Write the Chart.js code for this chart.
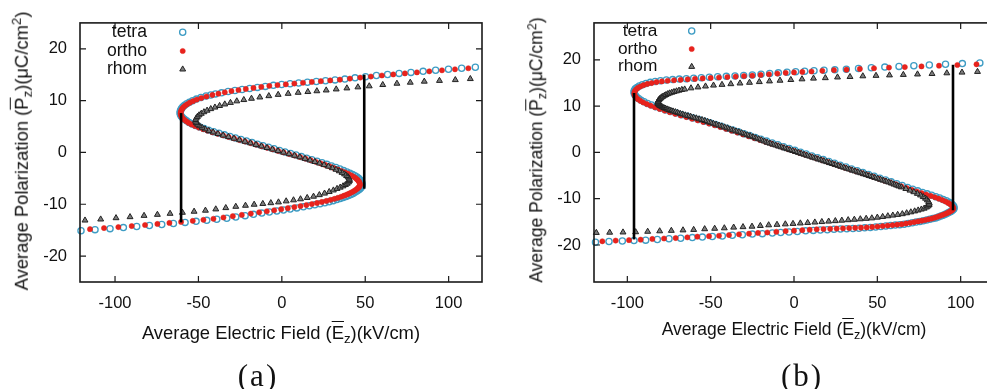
<!DOCTYPE html>
<html><head><meta charset="utf-8">
<script src="https://cdn.jsdelivr.net/npm/chart.js@4.4.1/dist/chart.umd.min.js"></script>
<style>
html,body{margin:0;padding:0;width:987px;height:389px;overflow:hidden;background:#fff;}
.box{position:absolute;top:0;height:389px;}
.txt{position:absolute;font-family:'Liberation Sans',Arial,sans-serif;color:#111;white-space:nowrap;line-height:1;}
.sub{position:relative;top:0.33em;font-size:72%;}
.sup{position:relative;top:-0.5em;font-size:72%;}
.ov{text-decoration:overline;text-decoration-thickness:1px;}
.cap{position:absolute;font-family:'Liberation Serif','Times New Roman',serif;color:#111;line-height:1;white-space:nowrap;transform:translate(-50%,-50%);letter-spacing:2px;}
</style></head><body>
<div class="box" style="left:0;width:494px"><canvas id="cA" width="494" height="389"></canvas></div>
<div class="box" style="left:514px;width:492px"><canvas id="cB" width="492" height="389"></canvas></div>

<div class="txt" style="left:22px;top:151px;font-size:18.4px;transform:translate(-50%,-50%) rotate(-90deg);">Average Polarization (<span class="ov">P</span><span class="sub">z</span>)(μC/cm<span class="sup">2</span>)</div>
<div class="txt" style="left:281px;top:323.5px;font-size:18.4px;transform:translateX(-50%);">Average Electric Field (<span class="ov">E</span><span class="sub">z</span>)(kV/cm)</div>
<div class="cap" style="left:258px;top:375px;font-size:31px;">(a)</div>

<div class="txt" style="left:537px;top:150px;font-size:17.5px;transform:translate(-50%,-50%) rotate(-90deg);">Average Polarization (<span class="ov">P</span><span class="sub">z</span>)(μC/cm<span class="sup">2</span>)</div>
<div class="txt" style="left:794px;top:321.2px;font-size:17.5px;transform:translateX(-50%);">Average Electric Field (<span class="ov">E</span><span class="sub">z</span>)(kV/cm)</div>
<div class="cap" style="left:802px;top:375px;font-size:31px;">(b)</div>

<script>
// ---------- data (E in kV/cm, P in uC/cm^2) ----------
const seriesNames = ['tetra', 'ortho', 'rhom'];
const xTicks = [-100, -50, 0, 50, 100];
const yTicks = [-20, -10, 0, 10, 20];

// panel (a)
const aTetra = [
[-120.4,-15.1],[-112,-14.9],[-103,-14.7],[-95,-14.5],[-87,-14.3],[-79.4,-14.1],[-72,-13.9],[-65,-13.7],[-58,-13.5],[-51.4,-13.3],
[-45,-13.1],[-39,-12.9],[-33,-12.7],[-27.6,-12.45],[-22,-12.2],[-17,-11.95],[-12,-11.7],[-7.5,-11.5],[-3,-11.3],[1,-11.1],
[5,-10.9],[9,-10.7],[12.9,-10.5],[16.5,-10.3],[19.8,-10.1],[22.9,-9.9],[25.8,-9.7],[28.4,-9.5],[30.8,-9.3],[33,-9.1],
[35,-8.9],[36.8,-8.7],[38.5,-8.5],[40,-8.3],[41.4,-8.1],[42.7,-7.9],[43.8,-7.7],[44.8,-7.5],[45.7,-7.3],[46.5,-7.1],
[47.1,-6.9],[47.6,-6.7],[47.9,-6.5],[48,-6.3],
[48,-6.0],[47.8,-5.75],[47.4,-5.5],[46.8,-5.25],[46,-5.0],[45,-4.75],[43.8,-4.5],[42.4,-4.25],[40.8,-4.0],[39,-3.75],
[37,-3.5],[34.8,-3.2],[32.4,-2.9],[29.8,-2.6],[27,-2.3],[24.1,-2.0],[21.1,-1.7],[18,-1.4],[14.9,-1.1],[11.7,-0.8],
[8.5,-0.5],[5.2,-0.2],[1.9,0.1],[-1.4,0.4],[-4.7,0.7],[-8,1.0],[-11.3,1.3],[-14.6,1.6],[-17.9,1.9],[-21.2,2.2],
[-24.5,2.5],[-27.8,2.8],[-31.1,3.1],[-34.4,3.4],[-37.7,3.7],[-40.9,4.0],[-43.9,4.3],[-46.7,4.6],[-49.3,4.9],[-51.7,5.2],
[-53.8,5.5],[-55.6,5.8],[-57.1,6.1],[-58.4,6.4],[-59.5,6.7],[-60.3,7.0],[-60.8,7.3],[-61,7.6],[-60.9,7.9],[-60.6,8.2],
[-60.1,8.5],[-59.3,8.8],[-58.3,9.1],[-57,9.4],[-55.4,9.7],[-53.5,10.0],[-51.2,10.3],[-48.5,10.6],[-45.4,10.9],[-42.6,11.1],
[-39.8,11.3],[-36.1,11.5],[-32.2,11.75],[-28.1,11.95],[-23.8,12.15],[-19.3,12.35],[-14.65,12.55],[-9.9,12.75],[-5.05,12.95],[-0.1,13.1],
[4.95,13.25],[10.1,13.4],[15.35,13.55],[20.7,13.7],[26.2,13.85],[31.9,14.0],[37.8,14.15],[43.9,14.4],[50.2,14.6],[56.7,14.85],
[63.4,15.05],[70.3,15.25],[77.4,15.45],[84.7,15.65],[92.2,15.85],[99.9,16.05],[107.8,16.25],[116,16.45]
];
const aOrtho = [
[-115,-14.8],[-106.6,-14.6],[-98,-14.4],[-90,-14.2],[-82,-14.0],[-74.6,-13.8],[-67.4,-13.6],[-60.4,-13.4],[-53.4,-13.2],[-47,-13.0],
[-41,-12.8],[-35,-12.55],[-29.4,-12.3],[-24,-12.05],[-18.6,-11.8],[-13.6,-11.55],[-9,-11.35],[-4.6,-11.15],[-0.4,-10.95],[3.6,-10.75],
[7.5,-10.55],[11.2,-10.35],[14.7,-10.15],[18,-9.95],[21.1,-9.75],[24,-9.55],[26.7,-9.35],[29.2,-9.15],[31.5,-8.95],[33.6,-8.75],
[35.5,-8.55],[37.2,-8.35],[38.8,-8.15],[40.2,-7.95],[41.5,-7.75],[42.7,-7.55],[43.7,-7.35],[44.6,-7.15],[45.4,-6.95],[46,-6.75],
[46.5,-6.55],[46.8,-6.35],
[46.8,-6.1],[46.6,-5.85],[46.2,-5.6],[45.6,-5.35],[44.8,-5.1],[43.8,-4.85],[42.6,-4.6],[41.2,-4.35],[39.6,-4.1],[37.8,-3.85],
[35.8,-3.6],[33.6,-3.3],[31.2,-3.0],[28.6,-2.7],[26,-2.4],[23.2,-2.1],[20.3,-1.8],[17.3,-1.5],[14.2,-1.2],[11,-0.9],
[7.7,-0.6],[4.4,-0.3],[1.1,0],[-2.2,0.3],[-5.5,0.6],[-8.8,0.9],[-12.1,1.2],[-15.4,1.5],[-18.7,1.8],[-22,2.1],
[-25.3,2.4],[-28.6,2.7],[-31.9,3.0],[-35.2,3.3],[-38.5,3.6],[-41.6,3.9],[-44.5,4.2],[-47.2,4.5],[-49.8,4.8],[-52.1,5.1],
[-54.1,5.4],[-55.8,5.7],[-57.2,6.0],[-58.4,6.3],[-59.4,6.6],[-60.1,6.9],[-60.5,7.2],[-60.7,7.5],[-60.6,7.8],[-60.3,8.1],
[-59.8,8.4],[-59.1,8.7],[-58.1,9.0],[-56.8,9.3],[-55.2,9.6],[-53.3,9.9],[-51,10.2],[-48.3,10.5],[-45.2,10.8],[-41.6,11.1],
[-38,11.35],[-34.2,11.6],[-30.2,11.85],[-26,12.05],[-21.6,12.25],[-17,12.45],[-12.3,12.65],[-7.5,12.85],[-2.6,13.0],[2.4,13.15],
[7.5,13.3],[12.7,13.45],[18,13.6],[23.4,13.75],[29,13.9],[34.8,14.05],[40.8,14.25],[47,14.45],[53.4,14.65],[60,14.85],
[66.8,15.05],[73.8,15.25],[81,15.45],[88.4,15.65],[96,15.85],[103.8,16.05],[111.8,16.25]
];
const aRhom = [
[-118,-13.1],[-108.6,-12.9],[-99.4,-12.65],[-91,-12.45],[-82.6,-12.2],[-74.6,-12.0],[-67,-11.8],[-59.6,-11.6],[-52.6,-11.4],[-45.8,-11.2],
[-39.6,-10.95],[-33.6,-10.7],[-27.6,-10.45],[-21.8,-10.25],[-16.6,-10.05],[-11.4,-9.9],[-6.6,-9.75],[-2,-9.6],[2.6,-9.4],[7,-9.2],
[11.2,-9.0],[15.2,-8.75],[19,-8.5],[22.5,-8.2],[25.6,-7.9],[28.4,-7.6],[30.9,-7.3],[33.1,-7.0],[35,-6.75],[36.7,-6.5],
[38.1,-6.25],[39.2,-6.0],[40,-5.75],[40.5,-5.5],[40.6,-5.25],
[40.3,-5.0],[39.7,-4.75],[38.8,-4.5],[37.6,-4.2],[36.1,-3.9],[34.4,-3.6],[32.5,-3.3],[30.3,-3.0],[27.9,-2.7],[25.3,-2.4],
[22.6,-2.1],[19.8,-1.8],[16.9,-1.5],[13.9,-1.2],[10.8,-0.9],[7.6,-0.6],[4.3,-0.3],[1,0],[-2.3,0.3],[-5.6,0.6],
[-8.9,0.9],[-12.2,1.2],[-15.5,1.5],[-18.8,1.8],[-22.1,2.1],[-25.4,2.4],[-28.7,2.7],[-32,3.0],[-35.2,3.3],[-38.3,3.6],
[-41.2,3.9],[-43.8,4.2],[-46,4.5],[-47.8,4.8],[-49.3,5.1],[-50.5,5.4],[-51.3,5.7],[-51.7,6.0],[-51.7,6.3],[-51.3,6.6],
[-50.6,6.9],[-49.6,7.2],[-48.3,7.5],[-46.7,7.8],[-44.8,8.1],[-42.6,8.4],[-40.1,8.7],[-37.3,9.0],[-34.2,9.3],[-30.8,9.6],
[-27,9.9],[-22.8,10.15],[-18.2,10.4],[-13.2,10.65],[-7.8,10.9],[-2.2,11.15],[3.8,11.35],[9.8,11.55],[15.6,11.7],[21,11.85],
[26.6,12.0],[32.6,12.2],[39,12.4],[45.6,12.6],[52.4,12.8],[60.5,13.05],[69,13.3],[77,13.5],[85.4,13.7],[94.5,13.85],
[104,14.0],[113,14.2]
];
const aJumpLeft = [[-60.4,-13.5],[-60.4,7.6]];
const aJumpRight = [[49.4,-7.0],[49.4,15.0]];

// panel (b)
const bTetra = [
[-119.1,-19.4],[-111,-19.25],[-103,-19.15],[-96,-19.05],[-89,-18.95],[-82,-18.8],[-75,-18.65],[-68,-18.55],[-61,-18.4],[-55,-18.3],
[-49,-18.15],[-43,-18.05],[-37,-17.9],[-31,-17.8],[-25,-17.65],[-19,-17.55],[-13,-17.4],[-8,-17.3],[-3,-17.2],[2,-17.1],
[7,-16.95],[11.6,-16.85],[15.8,-16.75],[20,-16.7],[24,-16.6],[27.9,-16.55],[31.7,-16.5],[35.4,-16.45],[39,-16.4],[42.4,-16.3],
[45.8,-16.2],[49,-16.1],[52.1,-16.0],[55.1,-15.9],[58,-15.8],[60.8,-15.7],[63.5,-15.6],[66.1,-15.5],[68.6,-15.35],[71,-15.2],
[73.3,-15.05],[75.5,-14.9],[77.6,-14.75],[79.6,-14.6],[81.5,-14.45],[83.3,-14.3],[85,-14.15],[86.6,-13.95],[88.1,-13.75],[89.5,-13.55],
[90.8,-13.35],[92,-13.15],[93.1,-12.95],[94.1,-12.75],[94.9,-12.55],[95.5,-12.35],[95.9,-12.15],[96,-11.95],
[95.8,-11.65],[95.2,-11.35],[94.3,-11.05],[93,-10.75],[91.4,-10.45],[89.5,-10.15],[87.4,-9.85],[85.1,-9.55],[82.6,-9.25],[79.9,-8.95],
[77.1,-8.65],[74.2,-8.3],[71.2,-7.95],[68.1,-7.55],[64.9,-7.15],[61.6,-6.75],[58.3,-6.35],[54.9,-5.95],[51.5,-5.55],[48.1,-5.15],
[44.7,-4.75],[41.3,-4.35],[37.9,-3.95],[34.5,-3.55],[31.1,-3.15],[27.7,-2.75],[24.3,-2.35],[20.9,-1.95],[17.5,-1.55],[14.1,-1.15],
[10.7,-0.75],[7.3,-0.35],[3.9,0.05],[0.5,0.45],[-2.9,0.85],[-6.3,1.25],[-9.7,1.65],[-13.1,2.05],[-16.5,2.45],[-19.9,2.85],
[-23.3,3.25],[-26.7,3.65],[-30.1,4.05],[-33.5,4.45],[-36.9,4.85],[-40.3,5.25],[-43.7,5.65],[-47.1,6.05],[-50.5,6.4],[-53.9,6.75],
[-57.3,7.1],[-60.7,7.45],[-64.1,7.8],[-67.5,8.15],[-70.8,8.5],[-74,8.85],[-77.1,9.2],[-80.1,9.55],[-82.9,9.9],[-85.5,10.25],
[-87.9,10.6],[-90,10.95],[-91.8,11.3],[-93.3,11.65],[-94.5,12.0],[-95.3,12.35],[-95.8,12.7],[-96,13.05],[-95.8,13.4],[-95.2,13.75],
[-94.2,14.05],[-92.8,14.35],[-91,14.65],[-88.8,14.9],[-86.2,15.15],[-83.3,15.35],[-80.1,15.5],[-76.6,15.65],[-72.8,15.75],[-68.8,15.85],
[-64.6,15.95],[-60.2,16.05],[-55.6,16.15],[-50.8,16.25],[-45.8,16.35],[-40.6,16.45],[-35.4,16.55],[-30.2,16.65],[-25,16.75],[-19.8,16.9],
[-14.6,17.05],[-9.4,17.2],[-4.2,17.35],[1,17.45],[6.4,17.55],[12,17.65],[18,17.75],[24.5,17.85],[31.4,18.0],[38.7,18.15],
[46.4,18.3],[54.5,18.45],[63,18.6],[71.9,18.75],[81.2,18.9],[90.9,19.05],[101,19.2],[111.5,19.35]
];
const bOrtho = [
[-115,-19.2],[-107,-19.05],[-99,-18.95],[-92,-18.85],[-85,-18.7],[-78,-18.6],[-71,-18.5],[-64,-18.35],[-58,-18.2],[-51,-18.1],
[-45,-18.0],[-39,-17.85],[-33,-17.7],[-27,-17.55],[-21.6,-17.4],[-16,-17.3],[-10.6,-17.15],[-5,-17.0],[0,-16.9],[5,-16.8],
[9.4,-16.7],[13.6,-16.6],[17.7,-16.55],[21.7,-16.5],[25.6,-16.45],[29.4,-16.4],[33.1,-16.35],[36.7,-16.3],[40.2,-16.25],[43.6,-16.2],
[46.9,-16.1],[50.1,-16.0],[53.2,-15.9],[56.2,-15.8],[59.1,-15.7],[61.9,-15.6],[64.6,-15.5],[67.2,-15.35],[69.7,-15.2],[72.1,-15.05],
[74.4,-14.9],[76.6,-14.75],[78.7,-14.6],[80.7,-14.45],[82.6,-14.3],[84.4,-14.1],[86.1,-13.9],[87.7,-13.7],[89.2,-13.5],[90.6,-13.3],
[91.9,-13.1],[93,-12.9],[94,-12.7],[94.8,-12.5],[95.3,-12.3],[95.6,-12.1],
[95.4,-11.8],[94.8,-11.5],[93.8,-11.2],[92.5,-10.9],[90.9,-10.6],[89,-10.3],[86.9,-10.0],[84.6,-9.7],[82.1,-9.4],[79.4,-9.1],
[76.6,-8.8],[73.7,-8.45],[70.7,-8.1],[67.6,-7.7],[64.4,-7.3],[61.1,-6.9],[57.8,-6.5],[54.4,-6.1],[51,-5.7],[47.6,-5.3],
[44.2,-4.9],[40.8,-4.5],[37.4,-4.1],[34,-3.7],[30.6,-3.3],[27.2,-2.9],[23.8,-2.5],[20.4,-2.1],[17,-1.7],[13.6,-1.3],
[10.2,-0.9],[6.8,-0.5],[3.4,-0.1],[0,0.3],[-3.4,0.7],[-6.8,1.1],[-10.2,1.5],[-13.6,1.9],[-17,2.3],[-20.4,2.7],
[-23.8,3.1],[-27.2,3.5],[-30.6,3.9],[-34,4.3],[-37.4,4.7],[-40.8,5.1],[-44.2,5.5],[-47.6,5.9],[-51,6.25],[-54.4,6.6],
[-57.8,6.95],[-61.2,7.3],[-64.6,7.65],[-68,8.0],[-71.3,8.35],[-74.5,8.7],[-77.6,9.05],[-80.6,9.4],[-83.4,9.75],[-86,10.1],
[-88.3,10.45],[-90.4,10.8],[-92.2,11.15],[-93.6,11.5],[-94.7,11.85],[-95.4,12.2],[-95.8,12.55],[-95.8,12.9],[-95.5,13.25],[-94.8,13.6],
[-93.7,13.95],[-92.2,14.25],[-90.3,14.55],[-88,14.8],[-85.4,15.0],[-82.5,15.2],[-79.3,15.35],[-75.8,15.5],[-72,15.6],[-68,15.7],
[-63.8,15.8],[-59.4,15.9],[-54.8,16.0],[-50,16.1],[-45,16.2],[-40,16.3],[-35,16.4],[-30,16.5],[-25,16.6],[-20,16.75],
[-15,16.9],[-10,17.05],[-5,17.2],[0,17.3],[5,17.4],[10.5,17.5],[17,17.65],[24,17.8],[31.5,17.9],[39.5,18.05],
[48,18.2],[57,18.35],[66.5,18.45],[76.5,18.6],[87,18.75],[98,18.9],[109.5,19.05]
];
const bRhom = [
[-118.6,-17.35],[-110.6,-17.3],[-102.6,-17.25],[-95,-17.2],[-87.8,-17.1],[-80.6,-17.0],[-73.6,-16.9],[-66.6,-16.8],[-60.2,-16.7],[-53.6,-16.55],
[-47.6,-16.45],[-41.8,-16.35],[-36.2,-16.2],[-30.6,-16.1],[-25.2,-16.0],[-20.2,-15.85],[-15.2,-15.7],[-10.2,-15.6],[-5.2,-15.5],[-0.6,-15.4],
[3.8,-15.3],[8.2,-15.2],[12.5,-15.1],[16.7,-15.0],[20.8,-14.9],[24.8,-14.8],[28.7,-14.7],[32.5,-14.6],[36.2,-14.5],[39.8,-14.4],
[43.3,-14.3],[46.7,-14.2],[50,-14.05],[53.2,-13.9],[56.3,-13.75],[59.3,-13.6],[62.2,-13.45],[65,-13.3],[67.6,-13.1],[70.1,-12.9],
[72.4,-12.7],[74.5,-12.5],[76.4,-12.3],[78.1,-12.1],[79.5,-11.85],[80.5,-11.6],[81.1,-11.3],[81.2,-11.0],
[80.8,-10.65],[80,-10.3],[78.9,-9.95],[77.5,-9.6],[75.9,-9.25],[74,-8.9],[71.9,-8.55],[69.6,-8.2],[67.1,-7.85],[64.4,-7.5],
[62.9,-7.3],[61.5,-7.1],[60,-6.9],[58.4,-6.65],[56.8,-6.45],[55.2,-6.25],[53.5,-6.05],[51.9,-5.85],[50.2,-5.65],[48.5,-5.45],
[46.8,-5.25],[45.1,-5.05],[43.4,-4.85],[41.7,-4.65],[40,-4.45],[38.3,-4.25],[36.6,-4.05],[34.9,-3.85],[33.2,-3.65],[31.5,-3.45],
[29.8,-3.25],[28.1,-3.05],[26.4,-2.85],[24.7,-2.65],[23,-2.45],[21.3,-2.25],[19.6,-2.05],[17.9,-1.85],[16.2,-1.65],[14.5,-1.45],
[12.8,-1.25],[11.1,-1.05],[9.4,-0.85],[7.7,-0.65],[6,-0.45],[4.3,-0.25],[2.6,-0.05],[0.9,0.15],[-0.8,0.35],[-2.5,0.55],
[-4.2,0.75],[-5.9,0.95],[-7.6,1.15],[-9.3,1.35],[-11,1.55],[-12.7,1.75],[-14.4,1.95],[-16.1,2.15],[-17.8,2.4],[-19.5,2.65],
[-21.2,2.9],[-22.9,3.1],[-24.6,3.35],[-26.3,3.55],[-28,3.75],[-29.7,3.95],[-31.4,4.2],[-33.1,4.4],[-34.8,4.6],[-36.5,4.8],
[-38.2,5.0],[-39.9,5.25],[-41.6,5.45],[-43.3,5.65],[-45,5.85],[-46.7,6.05],[-48.4,6.25],[-50.1,6.45],[-51.8,6.65],[-53.5,6.85],
[-55.2,7.05],[-56.9,7.2],[-58.6,7.4],[-60.3,7.55],[-62,7.75],[-63.6,7.9],[-65.2,8.05],[-66.8,8.25],[-68.3,8.4],[-69.8,8.6],
[-71.2,8.75],[-72.6,8.9],[-73.9,9.05],[-75.1,9.2],[-76.2,9.35],[-77.2,9.5],[-78.1,9.65],[-79,9.8],[-79.7,9.95],[-80.4,10.1],
[-80.9,10.25],[-81.3,10.4],[-81.6,10.55],[-81.7,10.7],[-81.7,10.9],[-81.6,11.05],[-81.3,11.25],[-81,11.4],[-80.5,11.6],[-80,11.75],
[-79.3,11.95],[-78.6,12.1],[-77.7,12.3],[-76.8,12.45],[-75.7,12.65],[-74.6,12.8],[-73.3,12.95],[-72,13.1],[-70.5,13.25],[-69,13.4],
[-67.3,13.55],[-65.6,13.65],[-61.8,13.9],[-57.6,14.1],[-53.1,14.3],[-48.3,14.5],
[-43.2,14.65],[-37.9,14.8],[-32.4,14.95],[-26.7,15.1],[-20.8,15.25],[-14.7,15.4],[-8.4,15.55],[-1.9,15.7],[4.8,15.85],[11.7,16.0],
[18.8,16.1],[26.1,16.25],[33.6,16.35],[41.3,16.5],[49.2,16.6],[57.3,16.7],[65.6,16.8],[74.1,16.9],[82.8,17.0],[91.7,17.15],
[100.8,17.3],[110.1,17.45],[119.6,17.6]
];
const bJumpLeft = [[-96,-18.8],[-96,12.85]];
const bJumpRight = [[95.4,-12.5],[95.4,18.95]];

// ---------- styling / building ----------
const FONT = "'Liberation Sans', Arial, sans-serif";
const toXY = arr => arr.map(p => ({x: p[0], y: p[1]}));
const styles = {
  tetra: {pointStyle:'circle', pointRadius:3.1, pointBorderWidth:1.3, pointBorderColor:'#3d9cc4', pointBackgroundColor:'rgba(255,255,255,0)'},
  ortho: {pointStyle:'circle', pointRadius:2.6, pointBorderWidth:0.5, pointBorderColor:'#e3201b', pointBackgroundColor:'#e8231d'},
  rhom:  {pointStyle:'triangle', pointRadius:3.4, pointBorderWidth:1, pointBorderColor:'#222', pointBackgroundColor:'#7d7d7d'}
};
function seriesDs(name, arr) {
  return Object.assign({label:name, data: toXY(arr), showLine:false, clip:false}, styles[name]);
}
function jumpDs(arr) {
  return {label:'jump', data: toXY(arr), showLine:true, pointRadius:0, borderColor:'#000', borderWidth:2.6, clip:false};
}

const framePlugin = {
  id: 'frame',
  afterDatasetsDraw(chart) {
    const {ctx, chartArea: a, scales: {x, y}} = chart;
    ctx.save();
    ctx.strokeStyle = '#1a1a1a'; ctx.lineWidth = 1.6;
    ctx.strokeRect(a.left, a.top, a.right - a.left, a.bottom - a.top);
    ctx.beginPath();
    x.ticks.forEach(t => { const p = x.getPixelForValue(t.value);
      ctx.moveTo(p, a.bottom); ctx.lineTo(p, a.bottom - 6); ctx.moveTo(p, a.top); ctx.lineTo(p, a.top + 6); });
    y.ticks.forEach(t => { const p = y.getPixelForValue(t.value);
      ctx.moveTo(a.left, p); ctx.lineTo(a.left + 6, p); ctx.moveTo(a.right, p); ctx.lineTo(a.right - 6, p); });
    ctx.lineWidth = 1.2; ctx.stroke();
    ctx.restore();
  }
};
function drawMarker(ctx, st, x, y) {
  ctx.save();
  ctx.lineWidth = st.pointBorderWidth; ctx.strokeStyle = st.pointBorderColor; ctx.fillStyle = st.pointBackgroundColor;
  const r = st.pointRadius;
  ctx.beginPath();
  if (st.pointStyle === 'triangle') {
    let rad = 0;
    ctx.moveTo(x + Math.sin(rad) * r, y - Math.cos(rad) * r);
    rad += 2 * Math.PI / 3; ctx.lineTo(x + Math.sin(rad) * r, y - Math.cos(rad) * r);
    rad += 2 * Math.PI / 3; ctx.lineTo(x + Math.sin(rad) * r, y - Math.cos(rad) * r);
    ctx.closePath();
  } else {
    ctx.arc(x, y, r, 0, 2 * Math.PI);
  }
  ctx.fill(); ctx.stroke();
  ctx.restore();
}
const legendPlugin = {
  id: 'gnuLegend',
  afterDraw(chart, args, o) {
    const ctx = chart.ctx;
    ctx.save();
    ctx.font = o.fontSize + 'px ' + FONT;
    ctx.fillStyle = '#111'; ctx.textAlign = 'right'; ctx.textBaseline = 'middle';
    seriesNames.forEach((n, i) => {
      ctx.fillText(n, o.textRight, o.rows[i]);
      drawMarker(ctx, styles[n], o.markerX, o.rows[i]);
    });
    ctx.restore();
  }
};

function makeChart(id, tetra, ortho, rhom, jl, jr, xr, yr, pad, leg) {
  return new Chart(document.getElementById(id), {
    type: 'scatter',
    data: { datasets: [jumpDs(jl), jumpDs(jr), seriesDs('rhom', rhom), seriesDs('ortho', ortho), seriesDs('tetra', tetra)] },
    options: {
      responsive: false, animation: false, events: [],
      layout: { padding: pad },
      plugins: { legend: {display:false}, tooltip: {enabled:false}, gnuLegend: leg },
      scales: {
        x: { type:'linear', position:'bottom', min: xr[0], max: xr[1],
             afterBuildTicks: s => { s.ticks = xTicks.map(v => ({value: v})); },
             afterFit: s => { s.height = 107; },
             grid: {display:false, drawTicks:false}, border: {display:false},
             ticks: {padding: 12, color:'#111', font: {family: FONT, size: 16.5}} },
        y: { type:'linear', position:'left', min: yr[0], max: yr[1],
             afterBuildTicks: s => { s.ticks = yTicks.map(v => ({value: v})); },
             afterFit: s => { s.width = 80; },
             grid: {display:false, drawTicks:false}, border: {display:false},
             ticks: {padding: 13, color:'#111', font: {family: FONT, size: 16.5}} }
      }
    },
    plugins: [framePlugin, legendPlugin]
  });
}

makeChart('cA', aTetra, aOrtho, aRhom, aJumpLeft, aJumpRight, [-121, 120], [-25, 25],
  {left:0, right:12, top:18, bottom:0}, {fontSize:17.6, textRight:147, markerX:182.7, rows:[32.3, 51, 69.3]});
makeChart('cB', bTetra, bOrtho, bRhom, bJumpLeft, bJumpRight, [-120, 120], [-28, 28],
  {left:0, right:12, top:17, bottom:0}, {fontSize:17.3, textRight:143.3, markerX:177.7, rows:[31, 49, 66.7]});
</script>
</body></html>
